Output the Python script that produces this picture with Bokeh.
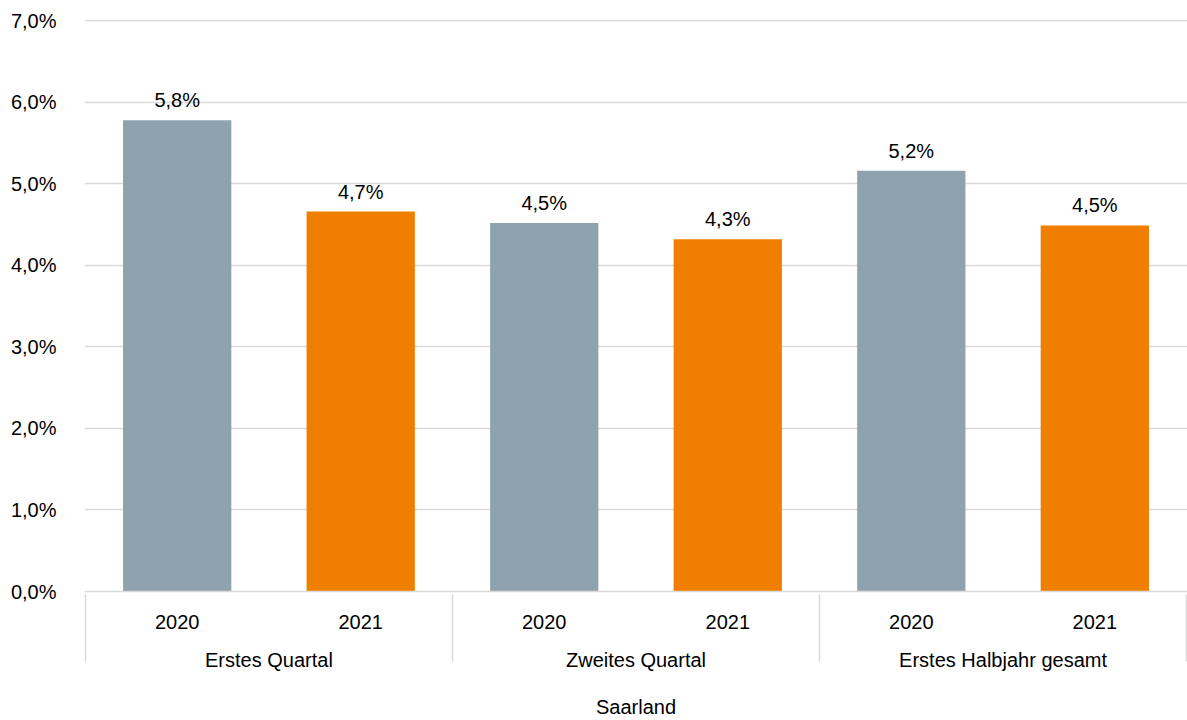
from bokeh.plotting import figure
from bokeh.models import FactorRange, Range1d, FixedTicker, ColumnDataSource, LabelSet
from bokeh.core.properties import value
from bokeh.embed import file_html
from bokeh.resources import INLINE

region = "Saarland"
periods = ["Erstes Quartal", "Zweites Quartal", "Erstes Halbjahr gesamt"]
years = ["2020", "2021"]
values_2020 = [5.78, 4.52, 5.16]
values_2021 = [4.66, 4.32, 4.49]
y_ticks = [0, 1, 2, 3, 4, 5, 6, 7]
y_tick_labels = ["0,0%", "1,0%", "2,0%", "3,0%", "4,0%", "5,0%", "6,0%", "7,0%"]
year_colors = {"2020": "#8FA3AF", "2021": "#F07F00"}

FONT = "Liberation Sans"
FS = "20px"
GRID = "#d9d9d9"

xs, tops, cols, labels = [], [], [], []
for i, per in enumerate(periods):
    for yr, vals in (("2020", values_2020), ("2021", values_2021)):
        v = vals[i]
        xs.append((per, yr))
        tops.append(v)
        cols.append(year_colors[yr])
        labels.append(f"{v:.1f}".replace(".", ",") + "%")

src = ColumnDataSource(dict(x=xs, top=tops, color=cols, label=labels))

# empty edge groups (hidden by negative padding) so that the axis draws
# its group separator also at the left border of the category axis
edge_left = [(" ", " ")]
edge_right = [("  ", "  ")]
x_range = FactorRange(factors=edge_left + xs + edge_right,
                      group_padding=0, factor_padding=0,
                      range_padding=-0.995, range_padding_units="absolute")

p = figure(
    x_range=x_range,
    y_range=Range1d(0, 7.015),
    width=1187, height=720,
    output_backend="svg", toolbar_location=None, tools="",
    min_border_left=84, min_border_right=0, min_border_top=19, min_border_bottom=126,
)
p.outline_line_color = None
p.background_fill_color = "white"

p.vbar(x="x", top="top", width=0.59, fill_color="color", line_color=None, source=src)

lbl = LabelSet(x="x", y="top", text="label", source=src, text_align="center",
               text_baseline="alphabetic", y_offset=13,
               text_font=value(FONT), text_font_size=FS, text_color="black")
p.add_layout(lbl)

p.xgrid.grid_line_color = None
p.ygrid.grid_line_color = GRID
p.ygrid.grid_line_width = 1.5

ya = p.yaxis[0]
ya.ticker = FixedTicker(ticks=y_ticks)
ya.major_label_overrides = {t: l for t, l in zip(y_ticks, y_tick_labels)}
ya.axis_line_color = None
ya.major_tick_line_color = None
ya.minor_tick_line_color = None
ya.major_label_standoff = 22
ya.major_label_text_font = FONT
ya.major_label_text_font_size = FS
ya.major_label_text_color = "black"

xa = p.xaxis[0]
xa.axis_line_color = GRID
xa.axis_line_width = 1.5
xa.major_tick_line_color = None
xa.minor_tick_line_color = None
xa.major_label_standoff = 17
xa.major_label_text_font = FONT
xa.major_label_text_font_size = FS
xa.major_label_text_color = "black"
xa.group_text_font = FONT
xa.group_text_font_size = FS
xa.group_text_color = "black"
xa.group_text_font_style = "normal"
xa.separator_line_color = GRID
xa.separator_line_width = 1.5
xa.axis_label = region
xa.axis_label_standoff = 22
xa.axis_label_text_font = FONT
xa.axis_label_text_font_size = FS
xa.axis_label_text_font_style = "normal"
xa.axis_label_text_color = "black"

open("out.html", "w").write(file_html(p, INLINE))
